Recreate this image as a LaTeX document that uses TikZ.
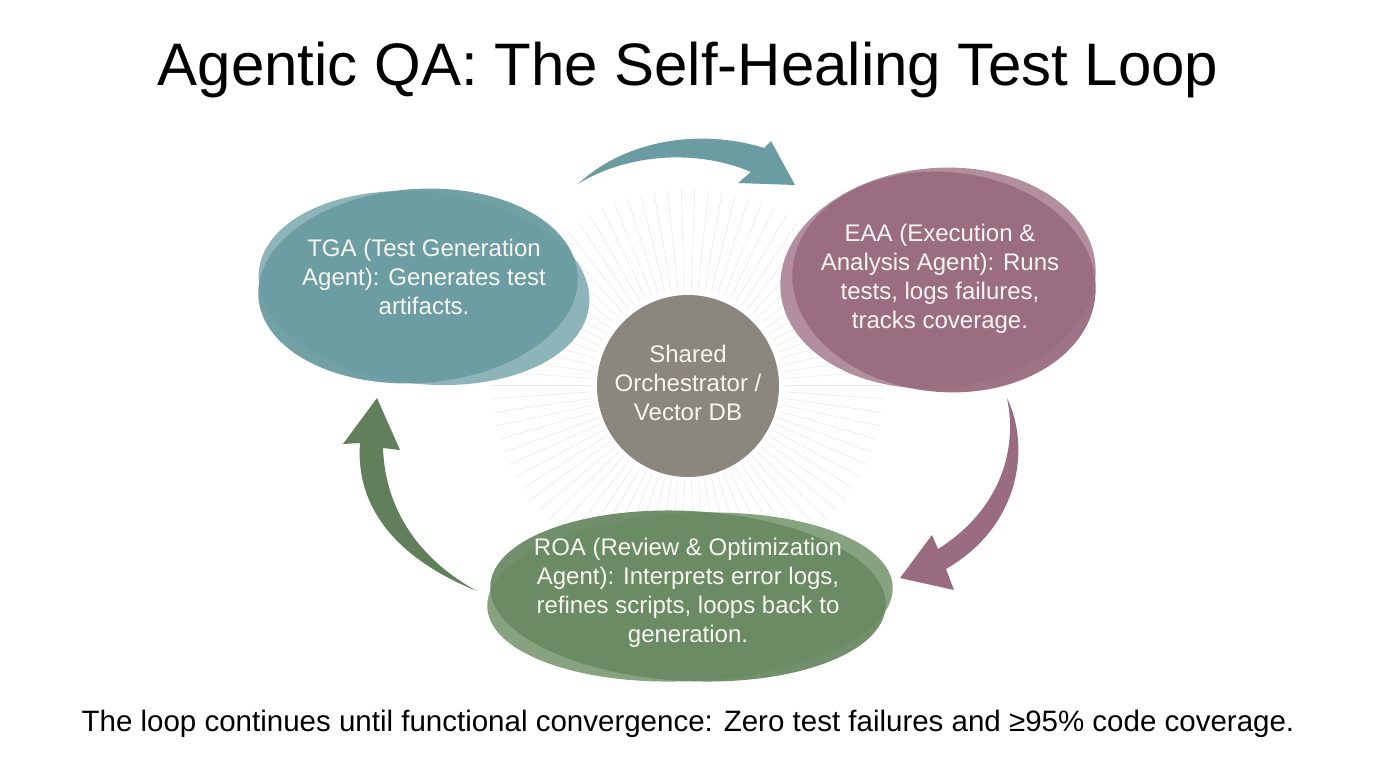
\documentclass[tikz,border=0pt]{standalone}
\usepackage{fontspec}
\setmainfont{Liberation Sans}
\usetikzlibrary{shapes.geometric}
\definecolor{tealA}{HTML}{6B9CA1}
\definecolor{tealB}{HTML}{8DB5B9}
\definecolor{mauveA}{HTML}{9A6C80}
\definecolor{mauveB}{HTML}{B28E9E}
\definecolor{greenA}{HTML}{698A62}
\definecolor{greenB}{HTML}{86A27F}
\definecolor{grayC}{HTML}{8B877F}
\definecolor{rayc}{HTML}{EAEAEA}
\definecolor{txt}{HTML}{F7F5F0}
\tikzset{
  lbl/.style={text=txt, font=\fontsize{24}{29}\selectfont, align=center},
}
\begin{document}
\begin{tikzpicture}[x=1pt,y=-1pt]
\useasboundingbox (0,0) rectangle (1376,768);
\fill[white] (0,0) rectangle (1376,768);
% rays
\foreach \a in {0,4,...,356}
  \draw[rayc, line width=0.6pt] (688,385) ++(\a:96) -- ++(\a:100);
% title
\node[font=\fontsize{60}{66}\selectfont] (title) at (688,70) {Agentic QA: The Self-Healing Test Loop};
% TGA
\fill[tealB, rotate around={-6:(424,288)}] (424,288) ellipse [x radius=166, y radius=96];
\fill[tealA, opacity=0.95, rotate around={4:(418,286)}] (418,286) ellipse [x radius=160, y radius=97];
\node[lbl] (tga) at (424,277) {TGA (Test Generation\\Agent): Generates test\\artifacts.};
% EAA
\fill[mauveB, rotate around={5:(938,278)}] (938,278) ellipse [x radius=158, y radius=110];
\fill[mauveA, opacity=0.95, rotate around={-5:(944,282)}] (944,282) ellipse [x radius=152, y radius=110];
\node[lbl] (eaa) at (940,279) {EAA (Execution \&\\Analysis Agent): Runs\\tests, logs failures,\\tracks coverage.};
% ROA
\fill[greenB, rotate around={3:(690,597)}] (690,597) ellipse [x radius=203, y radius=84];
\fill[greenA, opacity=0.95, rotate around={-3:(688,596)}] (688,596) ellipse [x radius=198, y radius=85];
\node[lbl] (roa) at (688,593) {ROA (Review \& Optimization\\Agent): Interprets error logs,\\refines scripts, loops back to\\generation.};
% center
\node[circle, fill=grayC, minimum size=182pt, inner sep=0pt] (hub) at (688,386) {};
\node[lbl] (hubtxt) at (688,383) {Shared\\Orchestrator /\\Vector DB};
% arrows
\fill[tealA] (578,184) .. controls (625,140) and (700,128) .. (764,148) -- (771,141) -- (795,185) -- (738,183) -- (751,172) .. controls (700,150) and (630,152) .. (578,184) -- cycle;
\fill[mauveA] (1007,398) .. controls (1030,445) and (1022,525) .. (946,569) -- (954,590) -- (900,578) -- (932,535) -- (938,549) .. controls (1000,510) and (1018,450) .. (1007,398) -- cycle;
\fill[greenA!92!black] (477,591) .. controls (400,560) and (355,510) .. (360,443) -- (343,444) -- (377,398) -- (400,450) -- (383,448) .. controls (385,510) and (420,560) .. (477,591) -- cycle;
% footer
\node[font=\fontsize{29.5}{34}\selectfont] (foot) at (688,724) {The loop continues until functional convergence: Zero test failures and ≥95\% code coverage.};
\end{tikzpicture}
\end{document}
